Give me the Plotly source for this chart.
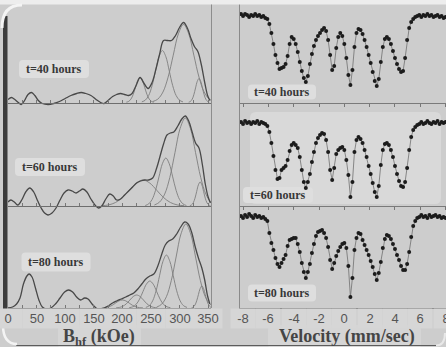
import plotly.graph_objects as go

W, H = 446, 347
def fx(x): return x / W
def fy(y): return 1 - y / H

# ---------------- Mossbauer spectra (relative transmission, %) ----------------
velocity = [-8.16,-8.00,-7.84,-7.68,-7.52,-7.36,-7.20,-7.04,-6.88,-6.72,
            -6.56,-6.40,-6.24,-6.08,-5.92,-5.76,-5.60,-5.44,-5.28,-5.12,
            -4.96,-4.80,-4.64,-4.48,-4.32,-4.16,-4.00,-3.84,-3.68,-3.52,
            -3.36,-3.20,-3.04,-2.88,-2.72,-2.56,-2.40,-2.24,-2.08,-1.92,
            -1.76,-1.60,-1.44,-1.28,-1.12,-0.96,-0.80,-0.64,-0.48,-0.32,
            -0.16,0.00,0.16,0.32,0.48,0.64,0.80,0.96,1.12,1.28,
            1.44,1.60,1.76,1.92,2.08,2.24,2.40,2.56,2.72,2.88,
            3.04,3.20,3.36,3.52,3.68,3.84,4.00,4.16,4.32,4.48,
            4.64,4.80,4.96,5.12,5.28,5.44,5.60,5.76,5.92,6.08,
            6.24,6.40,6.56,6.72,6.88,7.04,7.20,7.36,7.52,7.68,
            7.84,8.00]
T40 = [100.6,100.0,100.6,100.3,99.7,100.3,100.0,100.6,100.0,100.3,
       99.7,100.0,99.4,99.1,97.6,94.9,91.6,88.3,85.9,84.1,
       84.4,84.7,85.6,88.0,91.6,93.7,93.1,91.6,89.2,86.2,
       83.5,81.4,80.2,82.0,85.6,88.6,91.0,92.8,94.0,94.9,
       95.8,96.4,95.5,92.8,88.3,83.8,85.0,90.4,93.7,94.9,
       94.0,91.6,87.4,82.3,79.3,83.8,90.7,94.9,96.1,95.8,
       94.6,92.8,90.7,88.3,85.9,83.2,80.5,79.0,81.1,86.2,
       90.7,93.1,93.7,93.1,91.6,89.5,87.4,85.6,84.1,83.2,
       83.5,87.4,92.8,96.4,98.2,99.1,99.7,100.0,100.3,99.7,
       100.3,100.0,100.6,100.0,100.3,99.7,100.0,100.3,99.7,100.0,
       99.4,99.7]
T60 = [100.3,99.7,100.6,100.0,100.3,99.7,100.3,100.0,100.6,99.7,
       100.3,100.0,99.7,99.1,97.3,94.0,90.1,85.9,83.2,83.5,
       85.9,86.5,87.1,88.9,91.6,93.4,94.0,93.4,92.5,89.8,
       85.9,82.3,80.5,82.3,84.7,88.3,91.3,94.0,95.5,96.4,
       97.0,96.7,94.9,91.3,85.9,82.9,86.5,90.7,91.9,92.5,
       92.8,91.9,88.9,84.4,77.8,82.3,91.3,94.9,95.8,95.2,
       94.0,91.9,89.8,87.1,84.7,82.0,79.3,77.8,81.1,87.4,
       91.9,93.7,94.0,93.4,91.9,89.8,87.1,84.7,82.6,81.1,
       80.8,82.3,86.5,91.9,95.8,97.9,98.8,99.4,99.7,100.3,
       99.7,100.0,100.6,100.0,99.7,100.3,100.0,100.6,99.7,100.3,
       100.0,100.3]
T80 = [100.0,99.4,100.3,99.7,100.6,100.0,99.4,100.3,99.7,100.0,
       99.4,99.7,99.1,98.5,94.9,91.9,89.8,87.4,85.6,84.7,
       85.9,87.1,88.3,91.0,92.8,93.1,93.4,93.4,91.6,89.2,
       85.9,83.2,81.4,83.2,85.6,88.9,91.6,94.0,95.2,95.5,
       95.8,94.9,93.4,90.7,86.8,84.1,85.9,88.0,89.5,90.7,
       91.6,91.9,90.4,85.0,75.7,81.4,89.8,93.4,94.9,94.6,
       92.8,91.3,89.8,88.3,86.5,84.7,82.6,80.8,82.9,86.2,
       90.4,93.1,94.3,94.0,93.1,91.6,90.1,88.3,86.8,85.0,
       83.8,83.8,85.6,89.2,93.7,97.0,98.5,99.4,99.7,100.3,
       99.7,100.0,99.4,100.3,99.7,100.0,100.3,99.7,100.0,99.4,
       99.7,99.4]
assert len(velocity) == len(T40) == len(T60) == len(T80)

# ---------------- hyperfine field distributions P(B) (arb. units) ----------------
B40_total = [0,6,12,18,23,29,35,41,47,53,60,70,80,90,100,110,120,128,136,145,154,162,168,175,183,190,197,204,211,217,224,231,238,245,252,259,265,272,279,286,293,300,307,314,320,326,332,338,344,349,353]
P40_total = [3,5,3,0,-2,2,8,10,7,2,-1,-2,-1,1,4,7,9,10,9,7,3,0,-1,2,6,8,9,8,7,9,17,25,19,14,20,34,48,62,62,62,67,75,80,74,64,56,51,38,20,7,2]
B40_c1 = [207,211,215,219,223,227,231,235,239,243,247,251,255]
P40_c1 = [0.3,1.1,3.4,8.1,15.2,22.1,25,22.1,15.2,8.1,3.4,1.1,0.3]
B40_c2 = [234,240,246,252,258,264,270,276,282,288,294,300,306]
P40_c2 = [0.6,2.3,7.0,16.9,31.6,45.9,52,45.9,31.6,16.9,7.0,2.3,0.6]
B40_c3 = [253,262,271,280,289,298,307,316,325,334,343,352,361]
P40_c3 = [0.9,3.4,10.5,25.4,47.3,68.8,78,68.8,47.3,25.4,10.5,3.4,0.9]
B40_c4 = [316,319,322,325,328,331,334,337,340,343,346,349,352]
P40_c4 = [0.3,1.1,3.2,7.8,14.6,21.2,24,21.2,14.6,7.8,3.2,1.1,0.3]

B60_total = [0,5,11,17,24,31,38,45,52,58,64,70,77,84,91,98,105,112,119,125,131,138,145,152,158,164,171,178,184,190,197,204,211,218,225,232,239,246,253,260,266,272,278,284,290,297,304,310,316,322,328,334,340,345,350,354]
P60_total = [4,6,4,1,6,14,18,14,5,-2,-7,-9,-7,-2,6,13,16,15,13,15,17,14,7,1,-2,0,7,12,10,6,7,11,15,19,23,25,26,26,28,38,50,62,71,73,74,80,87,90,85,74,63,58,41,22,9,3]
B60_c1 = [164,176,188,200,212,224,236,248,260,272,284,296,308]
P60_c1 = [0.3,1.1,3.5,8.5,15.8,22.9,26,22.9,15.8,8.5,3.5,1.1,0.3]
B60_c2 = [240,246,252,258,264,270,276,282,288,294,300,306,312]
P60_c2 = [0.5,2.1,6.5,15.6,29.1,42.3,48,42.3,29.1,15.6,6.5,2.1,0.5]
B60_c3 = [256,265,274,283,292,301,310,319,328,337,346,355,364]
P60_c3 = [1.0,3.9,11.9,28.6,53.4,77.6,88,77.6,53.4,28.6,11.9,3.9,1.0]
B60_c4 = [318,321,324,327,330,333,336,339,342,345,348,351,354]
P60_c4 = [0.3,1.1,3.2,7.8,14.6,21.2,24,21.2,14.6,7.8,3.2,1.1,0.3]

B80_total = [0,8,15,21,27,33,37,42,48,54,60,67,75,83,91,99,106,113,120,127,134,140,147,154,161,168,175,183,190,198,206,213,220,227,234,241,248,255,262,269,275,281,288,295,302,309,315,321,327,333,339,344,349,353]
P80_total = [0,1,4,10,24,32,34,31,20,8,1,-1,0,4,10,16,18,16,11,8,10,9,4,0,-2,0,2,5,7,9,11,13,15,19,24,29,32,34,42,54,63,67,69,74,81,86,84,76,62,50,40,28,12,4]
B80_c0 = [164,170,176,182,188,194,200,206,212,218,224,230,236]
P80_c0 = [0.1,0.4,1.1,2.6,4.9,7.1,8,7.1,4.9,2.6,1.1,0.4,0.1]
B80_c1 = [189,195,201,207,213,219,225,231,237,243,249,255,261]
P80_c1 = [0.1,0.6,1.8,4.2,7.9,11.5,13,11.5,7.9,4.2,1.8,0.6,0.1]
B80_c2 = [212,218,224,230,236,242,248,254,260,266,272,278,284]
P80_c2 = [0.3,1.2,3.6,8.8,16.4,23.8,27,23.8,16.4,8.8,3.6,1.2,0.3]
B80_c3 = [241,247,253,259,265,271,277,283,289,295,301,307,313]
P80_c3 = [0.6,2.3,7.2,17.2,32.2,46.7,53,46.7,32.2,17.2,7.2,2.3,0.6]
B80_c4 = [260,268.5,277,285.5,294,302.5,311,319.5,328,336.5,345,353.5,362]
P80_c4 = [0.9,3.7,11.3,27.3,51.0,74.1,84,74.1,51.0,27.3,11.3,3.7,0.9]
B80_c5 = [321,324,327,330,333,336,339,342,345,348,351,354,357]
P80_c5 = [0.2,1.0,3.0,7.2,13.4,19.4,22,19.4,13.4,7.2,3.0,1.0,0.2]

labels = ["t=40 hours", "t=60 hours", "t=80 hours"]
b_ticks = [0, 50, 100, 150, 200, 250, 300, 350]
v_ticks = [-8, -6, -4, -2, 0, 2, 4, 6, 8]

left_sets = [
    (B40_total, P40_total, [(B40_c1, P40_c1), (B40_c2, P40_c2), (B40_c3, P40_c3), (B40_c4, P40_c4)]),
    (B60_total, P60_total, [(B60_c1, P60_c1), (B60_c2, P60_c2), (B60_c3, P60_c3), (B60_c4, P60_c4)]),
    (B80_total, P80_total, [(B80_c0, P80_c0), (B80_c1, P80_c1), (B80_c2, P80_c2), (B80_c3, P80_c3),
                            (B80_c4, P80_c4), (B80_c5, P80_c5)]),
]
spectra = [T40, T60, T80]

# panel geometry (pixels)
tops = [0, 103, 206]
bases_left = [102.5, 206, 308]
ext_left = [12, 14, 3]
bases_right = [103, 206, 308]
t_base_px = [16, 123, 216]
px_per_pct = 1 / 0.3

fig = go.Figure()
layout = dict(width=W, height=H, margin=dict(l=0, r=0, t=0, b=0),
              paper_bgcolor="#cdcdcd", plot_bgcolor="rgba(0,0,0,0)", showlegend=False)

def axname(kind, n):
    return kind if n == 1 else f"{kind}{n}"

for i in range(3):
    nl, nr = 2 * i + 1, 2 * i + 2
    totB, totP, comps = left_sets[i]
    for cb, cp in comps:
        fig.add_trace(go.Scatter(x=cb, y=cp, mode="lines",
                                 line=dict(color="#7e7e7e", width=0.9, shape="spline"),
                                 xaxis=axname("x", nl), yaxis=axname("y", nl), hoverinfo="skip"))
    fig.add_trace(go.Scatter(x=totB, y=totP, mode="lines",
                             line=dict(color="#484848", width=1.3, shape="spline"),
                             xaxis=axname("x", nl), yaxis=axname("y", nl), hoverinfo="skip"))
    T = spectra[i]
    fig.add_trace(go.Scatter(x=velocity, y=T, mode="lines",
                             line=dict(color="#707070", width=0.8),
                             xaxis=axname("x", nr), yaxis=axname("y", nr), hoverinfo="skip"))
    fig.add_trace(go.Scatter(x=velocity, y=T, mode="markers",
                             marker=dict(color="#1c1c1c", size=4),
                             xaxis=axname("x", nr), yaxis=axname("y", nr), hoverinfo="skip"))

    top, bl, ex = tops[i], bases_left[i], ext_left[i]
    layout[axname("xaxis", nl)] = dict(domain=[fx(8), fx(211)], range=[0, 355], anchor="free",
                                       position=fy(bl), showline=True, linecolor="#6e6e6e", linewidth=1,
                                       ticks="inside", ticklen=3, tickcolor="#777", tick0=0, dtick=25,
                                       showticklabels=False, showgrid=False, zeroline=False)
    layout[axname("yaxis", nl)] = dict(domain=[fy(bl + ex), fy(top)], range=[-ex, bl - top],
                                       anchor=axname("x", nl), visible=False)
    br, tb = bases_right[i], t_base_px[i]
    lo = 100 - (br - tb) / px_per_pct
    hi = 100 + (tb - top) / px_per_pct
    layout[axname("xaxis", nr)] = dict(domain=[fx(240), 1], range=[-8.24, 8.03], anchor=axname("y", nr),
                                       showline=True, linecolor="#7a7a7a", linewidth=1,
                                       ticks="outside", ticklen=3, tickcolor="#777", tickvals=v_ticks,
                                       showticklabels=False, showgrid=False, zeroline=False)
    layout[axname("yaxis", nr)] = dict(domain=[fy(br), fy(top)], range=[lo, hi], anchor=axname("x", nr),
                                       showline=True, linecolor="#8a8a8a", linewidth=1, ticks="",
                                       showticklabels=False, showgrid=False, zeroline=False)

def rrect(x0, y0, x1, y1, r, fill, layer="below"):
    p = (f"M {fx(x0+r):.5f},{fy(y0):.5f} L {fx(x1-r):.5f},{fy(y0):.5f} "
         f"Q {fx(x1):.5f},{fy(y0):.5f} {fx(x1):.5f},{fy(y0+r):.5f} L {fx(x1):.5f},{fy(y1-r):.5f} "
         f"Q {fx(x1):.5f},{fy(y1):.5f} {fx(x1-r):.5f},{fy(y1):.5f} L {fx(x0+r):.5f},{fy(y1):.5f} "
         f"Q {fx(x0):.5f},{fy(y1):.5f} {fx(x0):.5f},{fy(y1-r):.5f} L {fx(x0):.5f},{fy(y0+r):.5f} "
         f"Q {fx(x0):.5f},{fy(y0):.5f} {fx(x0+r):.5f},{fy(y0):.5f} Z")
    return dict(type="path", xref="paper", yref="paper", path=p, fillcolor=fill,
                line=dict(width=0), layer=layer)

def pline(x0, y0, x1, y1, color, width, layer="above"):
    return dict(type="line", xref="paper", yref="paper", x0=fx(x0), y0=fy(y0), x1=fx(x1), y1=fy(y1),
                line=dict(color=color, width=width), layer=layer)

def qcurve(xa, ya, xc, yc, xb, yb, color, width):
    p = f"M {fx(xa):.5f},{fy(ya):.5f} Q {fx(xc):.5f},{fy(yc):.5f} {fx(xb):.5f},{fy(yb):.5f}"
    return dict(type="path", xref="paper", yref="paper", path=p, line=dict(color=color, width=width),
                layer="above")

shapes = [
    rrect(250, 112, 441, 204, 6, "#d9d9d9"),
    rrect(58, 325, 141, 349, 5, "#d5d5d5"),
    rrect(268, 325, 421, 349, 5, "#d5d5d5"),
]
left_label_pos = [(54, 69, 70, 18), (50, 167, 70, 18), (56, 262, 69, 19)]
right_label_pos = [(282, 92, 68, 15), (278, 195, 70, 16), (282, 293, 68, 17)]
for (cx, cy, w, h) in left_label_pos + right_label_pos:
    shapes.append(rrect(cx - w / 2, cy - h / 2, cx + w / 2, cy + h / 2, 4, "#dedede"))
shapes += [
    dict(type="rect", xref="paper", yref="paper", x0=0, x1=1, y0=fy(4.5), y1=1,
         fillcolor="#ededed", line=dict(width=0), layer="above"),
    dict(type="rect", xref="paper", yref="paper", x0=fx(3), x1=fx(7.5), y0=fy(312), y1=fy(16),
         fillcolor="#3c3c3c", line=dict(width=0), layer="above"),
    qcurve(2, 28, 2, 5, 22, 5, "#f4f4f4", 3),
    pline(211.5, 4.5, 211.5, 308, "#8d8d8d", 1),
    pline(16, 345.5, 436, 345.5, "#5c5c5c", 1.2),
    qcurve(3, 325, 3, 344, 17, 344, "#f4f4f4", 2.5),
    qcurve(436, 345.5, 445, 345.5, 445, 333, "#e8e8e8", 2),
]

annotations = []
for (cx, cy, w, h), txt in zip(left_label_pos + right_label_pos, labels + labels):
    annotations.append(dict(x=fx(cx), y=fy(cy), xref="paper", yref="paper", text=f"<b>{txt}</b>",
                            showarrow=False, xanchor="center", yanchor="middle",
                            font=dict(family="Liberation Serif", size=12, color="#383838")))
for b in b_ticks:
    annotations.append(dict(x=b, xref="x5", y=fy(318.5), yref="paper", text=str(b), showarrow=False,
                            xanchor="center", yanchor="middle", bgcolor="#d6d6d6", width=26, height=17,
                            font=dict(family="Liberation Sans", size=13, color="#555555")))
for v in v_ticks:
    annotations.append(dict(x=v, xref="x6", y=fy(318.5), yref="paper", text=str(v), showarrow=False,
                            xanchor="center", yanchor="middle", bgcolor="#d6d6d6", width=22, height=17,
                            font=dict(family="Liberation Sans", size=13, color="#555555")))
annotations.append(dict(x=fx(99), y=fy(337), xref="paper", yref="paper",
                        text="<b>B<sub>hf</sub> (kOe)</b>", showarrow=False, xanchor="center", yanchor="middle",
                        font=dict(family="Liberation Serif", size=18, color="#454545")))
annotations.append(dict(x=fx(347), y=fy(336), xref="paper", yref="paper",
                        text="<b>Velocity (mm/sec)</b>", showarrow=False, xanchor="center", yanchor="middle",
                        font=dict(family="Liberation Serif", size=18, color="#454545")))

layout["shapes"] = shapes
layout["annotations"] = annotations
fig.update_layout(**layout)
fig.write_html("out.html", config={"displayModeBar": False, "staticPlot": True},
               post_script="document.body.style.margin='0';document.body.style.overflow='hidden';")
